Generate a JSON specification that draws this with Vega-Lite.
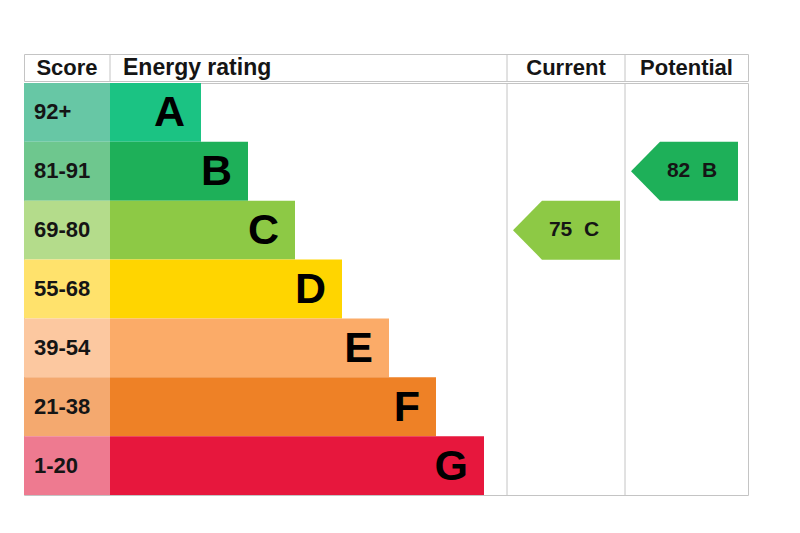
{
  "$schema": "https://vega.github.io/schema/vega-lite/v6.json",
  "background": "white",
  "padding": {"left": 23, "top": 53, "right": 10, "bottom": 10},
  "spacing": 0,
  "datasets": {
    "bands": [
      {"rating": "A", "score": "92+", "end": 177},
      {"rating": "B", "score": "81-91", "end": 224},
      {"rating": "C", "score": "69-80", "end": 271},
      {"rating": "D", "score": "55-68", "end": 318},
      {"rating": "E", "score": "39-54", "end": 365},
      {"rating": "F", "score": "21-38", "end": 412},
      {"rating": "G", "score": "1-20", "end": 460}
    ],
    "columns": [
      {"column": "Score", "start": 0, "end": 86},
      {"column": "Energy rating", "start": 86, "end": 483},
      {"column": "Current", "start": 483, "end": 601},
      {"column": "Potential", "start": 601, "end": 724}
    ],
    "assessment": [
      {"column": "Current", "score": 75, "rating": "C"},
      {"column": "Potential", "score": 82, "rating": "B"}
    ]
  },
  "vconcat": [
    {
      "width": 724,
      "height": 27,
      "data": {"name": "columns"},
      "layer": [
        {
          "transform": [{"filter": "datum.start > 0"}],
          "mark": {"type": "rule", "color": "#c4c4c4"},
          "encoding": {
            "x": {"field": "start", "type": "quantitative", "axis": null, "scale": {"domain": [0, 724], "nice": false, "zero": false}}
          }
        },
        {
          "transform": [
            {"filter": "datum.column != 'Energy rating'"},
            {"calculate": "(datum.start + datum.end) / 2", "as": "mid"}
          ],
          "mark": {"type": "text", "align": "center", "fontSize": 22},
          "encoding": {
            "x": {"field": "mid", "type": "quantitative", "axis": null},
            "text": {"field": "column"}
          }
        },
        {
          "transform": [{"filter": "datum.column == 'Energy rating'"}],
          "mark": {"type": "text", "align": "left", "dx": 13, "fontSize": 23},
          "encoding": {
            "x": {"field": "start", "type": "quantitative", "axis": null},
            "text": {"field": "column"}
          }
        }
      ]
    },
    {
      "width": 724,
      "height": 412,
      "layer": [
        {
          "data": {"name": "bands"},
          "mark": {"type": "rect"},
          "encoding": {
            "x": {"field": "end", "type": "quantitative", "axis": null, "scale": {"domain": [0, 724], "nice": false, "zero": false}},
            "x2": {"datum": 86},
            "y": {"field": "rating", "type": "nominal", "axis": null, "scale": {"domain": ["A", "B", "C", "D", "E", "F", "G"], "paddingInner": 0, "paddingOuter": 0}},
            "color": {
              "field": "rating",
              "type": "nominal",
              "legend": null,
              "scale": {
                "domain": ["A", "B", "C", "D", "E", "F", "G"],
                "range": ["#1bc383", "#1eb059", "#8dc945", "#ffd500", "#fbab68", "#ee8126", "#e7173d"]
              }
            }
          }
        },
        {
          "data": {"name": "bands"},
          "mark": {"type": "rect"},
          "encoding": {
            "x": {"datum": 0, "type": "quantitative", "axis": null},
            "x2": {"datum": 86},
            "y": {"field": "rating", "type": "nominal", "axis": null},
            "fill": {
              "field": "rating",
              "type": "nominal",
              "legend": null,
              "scale": {
                "domain": ["A", "B", "C", "D", "E", "F", "G"],
                "range": ["#67c7a5", "#6ec78e", "#b4dc8b", "#ffe26c", "#fcc8a0", "#f4a96f", "#ee7a90"]
              }
            }
          }
        },
        {
          "data": {"name": "bands"},
          "mark": {"type": "text", "align": "left", "fontSize": 22},
          "encoding": {
            "x": {"datum": 10, "type": "quantitative", "axis": null},
            "y": {"field": "rating", "type": "nominal", "axis": null},
            "text": {"field": "score"}
          }
        },
        {
          "data": {"name": "bands"},
          "mark": {"type": "text", "align": "right", "dx": -16, "dy": 1, "fontSize": 43, "color": "#000000"},
          "encoding": {
            "x": {"field": "end", "type": "quantitative", "axis": null},
            "y": {"field": "rating", "type": "nominal", "axis": null},
            "text": {"field": "rating"}
          }
        },
        {
          "data": {"name": "columns"},
          "transform": [{"filter": "datum.start >= 483"}],
          "mark": {"type": "rule", "color": "#c4c4c4"},
          "encoding": {
            "x": {"field": "start", "type": "quantitative", "axis": null}
          }
        },
        {
          "data": {"name": "assessment"},
          "transform": [{"filter": "datum.column == 'Current'"}],
          "mark": {
            "type": "point",
            "filled": true,
            "opacity": 1,
            "strokeWidth": 0,
            "size": 12769,
            "shape": "M 0.106 0 L 0.619 -0.522 L 2 -0.522 L 2 0.522 L 0.619 0.522 Z"
          },
          "encoding": {
            "x": {"datum": 483, "type": "quantitative", "axis": null},
            "y": {"field": "rating", "type": "nominal", "axis": null},
            "color": {"field": "rating", "type": "nominal", "legend": null}
          }
        },
        {
          "data": {"name": "assessment"},
          "transform": [{"filter": "datum.column == 'Potential'"}],
          "mark": {
            "type": "point",
            "filled": true,
            "opacity": 1,
            "strokeWidth": 0,
            "size": 12769,
            "shape": "M 0.106 0 L 0.619 -0.522 L 2 -0.522 L 2 0.522 L 0.619 0.522 Z"
          },
          "encoding": {
            "x": {"datum": 601, "type": "quantitative", "axis": null},
            "y": {"field": "rating", "type": "nominal", "axis": null},
            "color": {"field": "rating", "type": "nominal", "legend": null}
          }
        },
        {
          "data": {"name": "assessment"},
          "transform": [
            {"filter": "datum.column == 'Current'"},
            {"calculate": "datum.score + '\u00a0 ' + datum.rating", "as": "label"}
          ],
          "mark": {"type": "text", "align": "center", "dx": 67, "fontSize": 21},
          "encoding": {
            "x": {"datum": 483, "type": "quantitative", "axis": null},
            "y": {"field": "rating", "type": "nominal", "axis": null},
            "text": {"field": "label"}
          }
        },
        {
          "data": {"name": "assessment"},
          "transform": [
            {"filter": "datum.column == 'Potential'"},
            {"calculate": "datum.score + '\u00a0 ' + datum.rating", "as": "label"}
          ],
          "mark": {"type": "text", "align": "center", "dx": 67, "fontSize": 21},
          "encoding": {
            "x": {"datum": 601, "type": "quantitative", "axis": null},
            "y": {"field": "rating", "type": "nominal", "axis": null},
            "text": {"field": "label"}
          }
        }
      ]
    }
  ],
  "config": {
    "view": {"stroke": "#c4c4c4", "strokeWidth": 1},
    "text": {"font": "Liberation Sans", "fontWeight": "bold", "color": "#151515", "baseline": "middle"}
  }
}
